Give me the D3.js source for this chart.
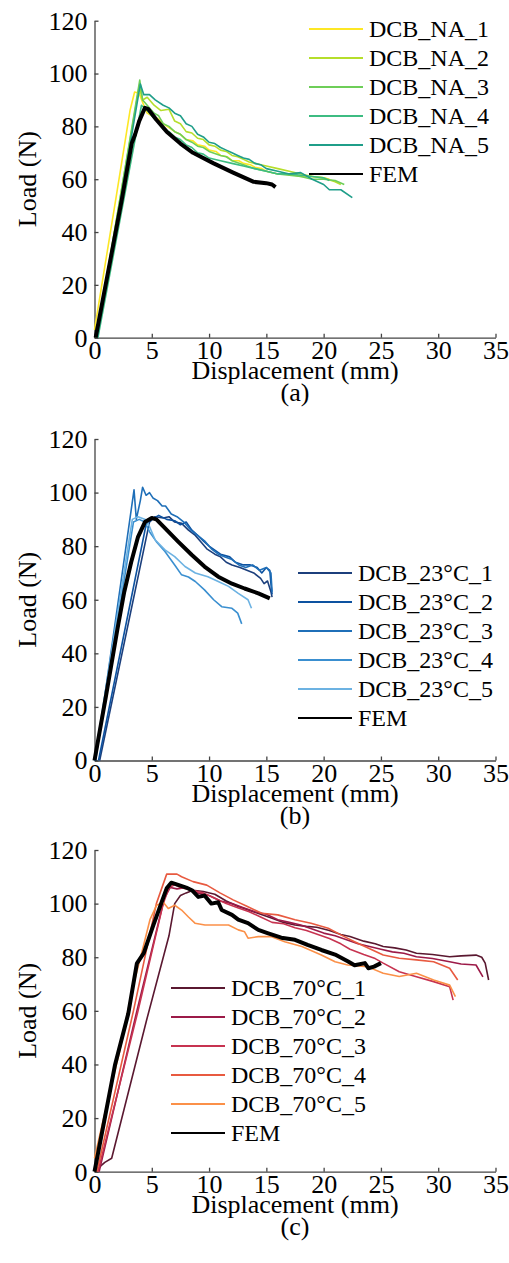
<!DOCTYPE html>
<html>
<head>
<meta charset="utf-8">
<script src="https://cdn.jsdelivr.net/npm/d3@7"></script>
<style>
  body { margin: 0; background: #fff; }
  text { font-family: "Liberation Serif", "Times New Roman", serif; }
</style>
</head>
<body>
<div id="chart"></div>
<script>
// ---- data: [displacement (mm), load (N)] ----
const xTicks = [0, 5, 10, 15, 20, 25, 30, 35];
const yTicks = [0, 20, 40, 60, 80, 100, 120];

const naNames = ["DCB_NA_1", "DCB_NA_2", "DCB_NA_3", "DCB_NA_4", "DCB_NA_5", "FEM"];
const na1 = [[0,3],[1.94,54.6],[3.1,86],[3.5,93],[3.9,92.5],[4.3,88],[4.6,85],[5,84],[5.5,83],[6,81],[6.5,79.5],[7,78],[7.5,77],[8,75],[8.6,74.5],[9,73],[9.6,72.5],[10,71],[10.6,70.5],[11,69],[11.6,68.5],[12,67],[12.6,67],[13,66],[13.6,65.5],[14,64.5],[14.6,64],[15,63],[16,62],[17,62],[18,61],[19,61],[20,60.5],[20.5,60]];
const na2 = [[0.15,0],[3.9,95],[4.2,90],[4.6,91],[5.2,88],[5.8,86],[6.5,86.5],[7,82],[7.5,81],[8,78],[8.5,77.5],[9,75.5],[9.5,75],[10,73],[10.5,72.5],[11,71],[11.5,70.5],[12,69],[12.5,68.5],[13,67.5],[13.5,66.5],[14,66],[14.5,65.5],[15,65],[16,64],[17,63],[18,62],[19,61],[20,60.5],[21,59],[21.5,58]];
const na3 = [[0.2,0],[3.95,97.5],[4.2,90],[4.6,88],[5.2,85],[5.6,84],[6,81],[6.5,80],[7,78],[7.5,77],[8,75],[8.5,74],[9,72.5],[9.5,72],[10,70.5],[11,69],[11.5,68.5],[12,67],[13,65.5],[14,64],[15,63],[16,62],[17,61.5],[18,61],[19,60],[20,60],[21,59.5],[21.8,58]];
const na4 = [[0.3,0],[4.1,88],[4.6,86],[5.2,83],[5.6,82],[6,79],[6.5,78],[7,76],[7.5,75],[8,73],[8.5,72],[9,70],[9.5,69.5],[10,68],[11,67],[12,66],[13,65],[14,64],[15,63],[16,62],[17,62],[18,61.5],[19,61],[20,60.5],[20.5,59.5]];
const na5 = [[0.25,0],[4,96],[4.3,92],[4.8,92],[5.3,90],[6,88],[6.5,87],[7,85],[7.5,84],[8,81],[8.5,80],[9,77],[9.5,76],[10,74],[10.5,73.5],[11,72],[11.5,71],[12,70],[12.5,69],[13,68],[13.5,67.5],[14,66],[14.5,65.5],[15,64],[16,63],[17,62],[18,62.5],[19,60],[20,58],[20.5,56],[21.5,56],[22.5,53]];
const naFem = [[0.1,0],[2.37,52],[3.25,73.6],[3.55,77],[3.9,82],[4.4,87],[4.7,86.5],[5.4,82.5],[6.3,78],[7.5,73.5],[8.6,70],[10.4,66],[12.1,62.5],[13.9,59],[15,58.5],[15.5,58],[15.8,57]];

const c23Names = ["DCB_23°C_1", "DCB_23°C_2", "DCB_23°C_3", "DCB_23°C_4", "DCB_23°C_5", "FEM"];
const c23a = [[0.45,0],[4.8,89],[5.3,91],[6,90.5],[6.5,91],[7,89],[7.6,88.5],[8.2,86],[8.8,84],[9.2,82],[9.8,79],[10.5,77],[11,76],[11.5,74],[12,73],[12.7,72],[13.3,71],[13.9,70],[14.5,68],[14.8,66],[15.1,67],[15.4,63],[15.5,61]];
const c23b = [[0.35,0],[4.5,88],[5,90],[5.6,91.5],[6.3,90],[7,89.5],[7.5,88],[8,89],[8.5,86],[9,84],[9.5,82],[10,80],[10.5,78.5],[11,77],[11.8,76],[12.3,74],[13,73],[13.6,73],[14.2,72],[14.6,70],[15,72],[15.3,71],[15.4,66],[15.5,62]];
const c23c = [[0.1,0],[3.45,101],[3.65,90],[4,97],[4.2,102],[4.5,99],[4.8,100],[5.1,98],[5.5,97],[5.9,95],[6.2,95],[6.7,92],[7.2,91],[7.8,89],[8.4,86],[9,84],[9.6,82],[10.2,79],[10.8,77],[11.4,76],[12,75],[12.6,73],[13.2,72],[13.8,73],[14.4,71],[15,72],[15.4,70],[15.5,63]];
const c23d = [[0.05,0],[3.4,89],[3.9,90],[4.4,89],[4.8,85.4],[5.4,81.7],[6.15,78],[7,73],[7.6,69.3],[8.2,68.5],[8.8,66.8],[9.6,63.7],[10.4,60],[11.1,57.4],[12,56.8],[12.5,55],[12.85,51]];
const c23e = [[0,0],[3.3,90],[3.8,91],[4.55,89.8],[5.3,82.3],[6.15,78.6],[7,76.1],[7.9,72.4],[8.8,70],[9.9,68.6],[10.8,66.8],[11.7,65],[12.55,62.4],[13.4,60],[13.7,56.8]];
const c23Fem = [[0,0],[1,24],[2,49],[2.6,63],[3.2,74],[3.8,83.5],[4.4,89],[5,90.5],[5.4,90],[6.15,86.7],[7.3,81.7],[8.5,76.7],[9.6,72.4],[10.8,68.6],[12,66],[13.1,64.2],[14.3,62.4],[15.3,60.5]];

const c70Names = ["DCB_70°C_1", "DCB_70°C_2", "DCB_70°C_3", "DCB_70°C_4", "DCB_70°C_5", "FEM"];
const c70a = [[0.2,0],[0.5,2],[0.9,3.5],[1.5,5],[4.55,56.6],[6.5,88],[7,100],[7.5,103],[8,104],[8.6,105],[9.5,104.5],[10.5,103.5],[11.5,101],[12.5,99],[13.5,97.5],[14.5,96],[15.5,94.5],[16.5,93],[17.5,92],[18.5,91.5],[19.4,91.2],[20.5,90],[21.5,88.5],[22.3,87.7],[23.5,86],[24.5,85],[25.2,84],[26.2,83.5],[27.2,82.7],[28.1,81.5],[29.5,81],[31,80.2],[32,80.5],[33.3,80.8],[33.8,80],[34.1,77.8],[34.4,71.5]];
const c70b = [[0.4,0],[3.7,60],[6.1,102],[6.6,106],[7.2,105.5],[8,106],[9,104],[10,103],[11,101],[12,100],[13,98.5],[14,97],[15,96],[16,94],[17,93],[18,92],[19,90.5],[20,89],[21,88],[22,86.5],[23,85],[24,84],[25,83],[26,82],[27,81.5],[28.1,80.2],[29.5,79.5],[31,78.3],[32,77.5],[33.3,77.1],[33.9,72.7]];
const c70c = [[0.3,0],[3.8,60],[6,100],[6.5,106],[7,107],[7.5,106],[8.5,105],[9.5,104],[10.5,102],[11.5,100],[12.5,98.5],[13.5,97],[14.5,95],[15.5,93],[16.5,92.5],[17.5,91],[18.5,90],[19.5,88.5],[20.5,87],[21.5,85],[22.3,83],[23.5,81],[24.5,79.5],[25.2,77.8],[26.6,74.6],[28.1,72.7],[29.6,70.9],[31,69],[31.3,64]];
const c70d = [[0.2,0],[3.4,60],[5.4,100],[6.3,111],[7.2,111],[7.6,110],[8.6,108.2],[9.8,106.9],[10.95,104],[12.1,101.4],[13.3,99],[14.6,96.4],[16,95.8],[17.5,94],[18.9,92.7],[20.4,90.8],[21.8,87.7],[22.7,85.8],[25.2,80.8],[26.6,79.6],[28.1,79],[29.6,78.3],[31,75.9],[31.7,71.5]];
const c70e = [[0,5],[0.8,20],[2.2,45],[3.3,68],[4.26,84],[4.84,94],[5.42,99.4],[6,100.5],[6.44,98.2],[7,99.4],[7.6,97.6],[8.2,95],[8.77,92.7],[9.64,92],[10.8,92],[11.7,92],[12.55,90.2],[13.1,89.5],[13.4,87.1],[14.3,87.7],[15.4,87.7],[16.6,85.8],[18.1,84],[19.8,80.8],[21,78.3],[22.1,77.1],[23.8,76.5],[25.2,74],[26.6,72.8],[28.1,74],[29.6,71.5],[31,69.6],[31.5,65.3]];
const c70Fem = [[0,0],[1.8,40],[2.95,59],[3.7,77.7],[4.3,81.5],[5.1,91.5],[5.9,101],[6.3,105.7],[6.7,107.8],[7.3,107],[8,106],[8.5,105],[9.06,102.5],[9.6,103],[10.2,100],[10.8,100.5],[11.1,97.6],[12,95.8],[12.55,94],[13.4,92.7],[14.3,90.2],[15.1,89],[16.3,87.3],[17.5,86.5],[18.6,84.6],[19.8,82.7],[21,81],[22.1,78.5],[22.7,77],[23.6,77.8],[23.9,75.9],[24.4,76.5],[25,77.8]];

// ---- styles ----
const naColors  = ["#fde725", "#b5de2b", "#6ece58", "#3dbc82", "#1f9e89", "#000"];
const c23Colors = ["#1c3f7c", "#0d52a0", "#1f6fb8", "#3a8fd0", "#6cb2e2", "#000"];
const c70Colors = ["#5a1830", "#9c1a48", "#c73350", "#e85a40", "#fb9048", "#000"];

const panels = [
  { tag: "(a)", top: 20.7, bottom: 337.7, names: naNames, colors: naColors,
    series: [na1, na2, na3, na4, na5, naFem], legX: 309, legY: 29 },
  { tag: "(b)", top: 439, bottom: 760.5, names: c23Names, colors: c23Colors,
    series: [c23a, c23b, c23c, c23d, c23e, c23Fem], legX: 298, legY: 573 },
  { tag: "(c)", top: 850, bottom: 1171.7, names: c70Names, colors: c70Colors,
    series: [c70a, c70b, c70c, c70d, c70e, c70Fem], legX: 171, legY: 988 }
];

const W = 509, H = 1263;
const left = 94.5, right = 495.5;

const svg = d3.select("#chart").append("svg")
    .attr("width", W)
    .attr("height", H);

const x = d3.scaleLinear().domain([0, 35]).range([left, right]);

panels.forEach(p => {
    const y = d3.scaleLinear().domain([0, 120]).range([p.bottom, p.top]);
    const g = svg.append("g");

    // X axis
    const gx = g.append("g")
        .attr("transform", `translate(0,${p.bottom})`)
        .call(d3.axisBottom(x).tickValues(xTicks).tickSize(-4).tickSizeOuter(0).tickPadding(3));
    // Y axis
    const gy = g.append("g")
        .attr("transform", `translate(${left},0)`)
        .call(d3.axisLeft(y).tickValues(yTicks).tickSize(-4).tickSizeOuter(0).tickPadding(7));

    [gx, gy].forEach(a => {
        a.select(".domain").attr("stroke", "#444").attr("stroke-width", 1.3);
        a.selectAll(".tick line").attr("stroke", "#444").attr("stroke-width", 1.3);
        a.selectAll("text").attr("fill", "#000")
            .style("font-size", "26px")
            .style("font-family", '"Liberation Serif", "Times New Roman", serif');
    });

    // lines
    const line = d3.line().x(d => x(d[0])).y(d => y(d[1]));
    p.series.forEach((s, i) => {
        const fem = i === p.series.length - 1;
        g.append("path")
            .datum(s)
            .attr("fill", "none")
            .attr("stroke", p.colors[i])
            .attr("stroke-width", fem ? 4 : 1.6)
            .attr("stroke-linejoin", "round")
            .attr("d", line);
    });

    // legend
    const leg = g.append("g");
    p.names.forEach((n, i) => {
        const ly = p.legY + i * 29;
        leg.append("line")
            .attr("x1", p.legX).attr("x2", p.legX + 54)
            .attr("y1", ly).attr("y2", ly)
            .attr("stroke", p.colors[i])
            .attr("stroke-width", 2);
        leg.append("text")
            .attr("x", p.legX + 60)
            .attr("y", ly)
            .attr("dy", "0.35em")
            .style("font-size", "24px")
            .text(n);
    });

    // axis titles
    g.append("text")
        .attr("x", (left + right) / 2)
        .attr("y", p.bottom + 41)
        .attr("text-anchor", "middle")
        .style("font-size", "26px")
        .text("Displacement (mm)");
    g.append("text")
        .attr("transform", `translate(36,${(p.top + p.bottom) / 2}) rotate(-90)`)
        .attr("text-anchor", "middle")
        .style("font-size", "26px")
        .text("Load (N)");
    g.append("text")
        .attr("x", (left + right) / 2)
        .attr("y", p.bottom + 63)
        .attr("text-anchor", "middle")
        .style("font-size", "26px")
        .text(p.tag);
});
</script>
</body>
</html>
